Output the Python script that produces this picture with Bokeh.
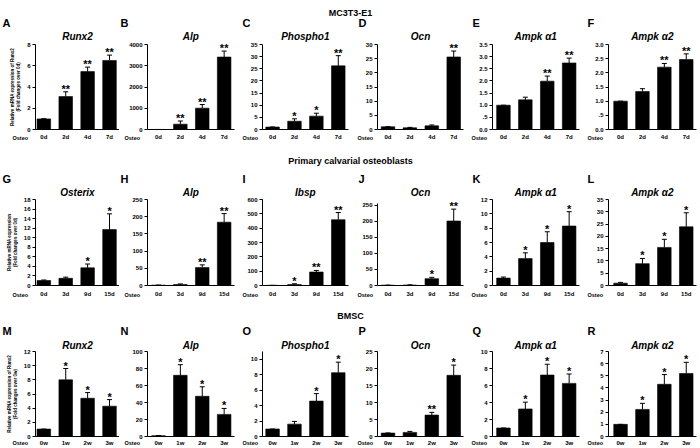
from bokeh.plotting import figure
from bokeh.models import Range1d, FixedTicker, Label, Whisker, TeeHead, ColumnDataSource
from bokeh.layouts import column, row
from bokeh.core.properties import value
from bokeh.embed import file_html
from bokeh.resources import INLINE

FONT = "Liberation Sans"

# ---------------- data ----------------
section_titles = ["MC3T3-E1", "Primary calvarial osteoblasts", "BMSC"]

days_mc = ["0d", "2d", "4d", "7d"]
days_pc = ["0d", "3d", "9d", "15d"]
weeks_bm = ["0w", "1w", "2w", "3w"]

# MC3T3-E1
mc_runx2 = [1.0, 3.1, 5.45, 6.5]
mc_runx2_err = [0.02, 0.45, 0.42, 0.5]
mc_runx2_sig = ["", "**", "**", "**"]
mc_alp = [1.0, 250, 1005, 3410]
mc_alp_err = [0.0, 150, 170, 280]
mc_alp_sig = ["", "**", "**", "**"]
mc_phospho1 = [1.0, 3.4, 5.5, 26.2]
mc_phospho1_err = [0.05, 1.0, 1.2, 4.2]
mc_phospho1_sig = ["", "*", "*", "**"]
mc_ocn = [0.95, 0.6, 1.3, 25.6]
mc_ocn_err = [0.05, 0.15, 0.3, 2.1]
mc_ocn_sig = ["", "", "", "**"]
mc_ampka1 = [1.0, 1.22, 1.99, 2.74]
mc_ampka1_err = [0.0, 0.11, 0.21, 0.2]
mc_ampka1_sig = ["", "", "**", "**"]
mc_ampka2 = [1.0, 1.34, 2.2, 2.47]
mc_ampka2_err = [0.0, 0.1, 0.13, 0.2]
mc_ampka2_sig = ["", "", "**", "**"]

# Primary calvarial osteoblasts
pc_osterix = [1.05, 1.5, 3.7, 11.7]
pc_osterix_err = [0.1, 0.25, 0.8, 3.3]
pc_osterix_sig = ["", "", "*", "*"]
pc_alp = [1.0, 3.0, 52, 184]
pc_alp_err = [0.3, 1.5, 8, 25]
pc_alp_sig = ["", "", "**", "**"]
pc_ibsp = [1.0, 7.0, 94, 459]
pc_ibsp_err = [0.3, 5, 11, 50]
pc_ibsp_sig = ["", "*", "**", "**"]
pc_ocn = [1.0, 1.5, 21.4, 201]
pc_ocn_err = [0.2, 0.5, 4, 37]
pc_ocn_sig = ["", "", "*", "**"]
pc_ampka1 = [1.03, 3.76, 6.0, 8.3]
pc_ampka1_err = [0.15, 0.8, 1.5, 2.0]
pc_ampka1_sig = ["", "*", "*", "*"]
pc_ampka2 = [0.96, 8.9, 15.5, 23.9]
pc_ampka2_err = [0.3, 2.1, 3.3, 5.7]
pc_ampka2_sig = ["", "*", "*", "*"]

# BMSC
bm_runx2 = [1.05, 8.0, 5.4, 4.28]
bm_runx2_err = [0.0, 1.6, 0.8, 0.93]
bm_runx2_sig = ["", "*", "*", "*"]
bm_alp = [1.0, 72, 47.3, 26]
bm_alp_err = [0.2, 12.5, 11.2, 7]
bm_alp_sig = ["", "*", "*", "*"]
bm_phospho1 = [0.97, 1.6, 4.58, 8.26]
bm_phospho1_err = [0.0, 0.35, 0.97, 1.36]
bm_phospho1_sig = ["", "", "*", "*"]
bm_ocn = [1.0, 1.2, 6.3, 18.0]
bm_ocn_err = [0.05, 0.3, 0.8, 3.0]
bm_ocn_sig = ["", "", "**", "*"]
bm_ampka1 = [1.0, 3.24, 7.23, 6.25]
bm_ampka1_err = [0.0, 0.8, 1.27, 1.1]
bm_ampka1_sig = ["", "*", "*", "*"]
bm_ampka2 = [1.0, 2.23, 4.3, 5.19]
bm_ampka2_err = [0.0, 0.5, 0.8, 0.92]
bm_ampka2_sig = ["", "*", "*", "*"]

ylabel_mc = "Relative mRNA expression of Runx2\n(Fold changes over 0d)"
ylabel_pc = "Relative mRNA expression\n(Fold changes over 0d)"
ylabel_bm = "Relative mRNA expression of Runx2\n(Fold changes over 0w)"

# letter, gene, categories, values, errors, significance,
# axis end, value at top of plotting area, tick step, last tick, y label
rows_spec = [
    [
        ("A", "Runx2", days_mc, mc_runx2, mc_runx2_err, mc_runx2_sig, 8, 8, 2, 8, ylabel_mc),
        ("B", "Alp", days_mc, mc_alp, mc_alp_err, mc_alp_sig, 4000, 4000, 1000, 4000, None),
        ("C", "Phospho1", days_mc, mc_phospho1, mc_phospho1_err, mc_phospho1_sig, 35, 35, 5, 35, None),
        ("D", "Ocn", days_mc, mc_ocn, mc_ocn_err, mc_ocn_sig, 30, 30, 5, 30, None),
        ("E", "Ampk α1", days_mc, mc_ampka1, mc_ampka1_err, mc_ampka1_sig, 3.5, 3.5, 0.5, 3.5, None),
        ("F", "Ampk α2", days_mc, mc_ampka2, mc_ampka2_err, mc_ampka2_sig, 3.0, 3.0, 0.5, 3.0, None),
    ],
    [
        ("G", "Osterix", days_pc, pc_osterix, pc_osterix_err, pc_osterix_sig, 18, 18, 2, 18, ylabel_pc),
        ("H", "Alp", days_pc, pc_alp, pc_alp_err, pc_alp_sig, 250, 250, 50, 250, None),
        ("I", "Ibsp", days_pc, pc_ibsp, pc_ibsp_err, pc_ibsp_sig, 600, 600, 100, 600, None),
        ("J", "Ocn", days_pc, pc_ocn, pc_ocn_err, pc_ocn_sig, 256, 268, 50, 250, None),
        ("K", "Ampk α1", days_pc, pc_ampka1, pc_ampka1_err, pc_ampka1_sig, 12, 12, 2, 12, None),
        ("L", "Ampk α2", days_pc, pc_ampka2, pc_ampka2_err, pc_ampka2_sig, 35, 35, 5, 35, None),
    ],
    [
        ("M", "Runx2", weeks_bm, bm_runx2, bm_runx2_err, bm_runx2_sig, 12, 12, 2, 12, ylabel_bm),
        ("N", "Alp", weeks_bm, bm_alp, bm_alp_err, bm_alp_sig, 100, 100, 20, 100, None),
        ("O", "Phospho1", weeks_bm, bm_phospho1, bm_phospho1_err, bm_phospho1_sig, 11, 11, 2, 10, None),
        ("P", "Ocn", weeks_bm, bm_ocn, bm_ocn_err, bm_ocn_sig, 25, 25, 5, 25, None),
        ("Q", "Ampk α1", weeks_bm, bm_ampka1, bm_ampka1_err, bm_ampka1_sig, 10, 10, 2, 10, None),
        ("R", "Ampk α2", weeks_bm, bm_ampka2, bm_ampka2_err, bm_ampka2_sig, 7, 7, 1, 7, None),
    ],
]

# ---------------- layout constants (pixels) ----------------
PX_PER_CAT = 21.9                 # horizontal pixels per category step
X1 = 3.45                         # right end of the category axis
col_w = [119, 117, 116, 115, 115, 117]
axis_off = [35, 28, 26, 25, 25, 26]
col_x0 = [-0.38, -0.5, -0.46, -0.48, -0.5, -0.55]
letter_x = [2, 1, 6, 6, 5, 5]
osteo_x = [12, 5, 6, 5, 4, 5]
strip_h = [17, 20, 23]
strip_y = [5, 10, 7]
panel_h = [133, 129, 125]
axis_top = [27, 29, 29]
axis_zero = [112, 115, 114]
letter_y = [5, 8, 8]
gene_y = [19, 22, 23]
xlab_off = [8, 9, 6]
xlab_standoff = [4, 5, 3]
TOTAL_W = sum(col_w)


def tick_label(t, step):
    if step < 1:
        s = f"{t:.1f}"
        return ".5" if s == "0.5" else s
    return str(int(round(t)))


def make_panel(spec, r, c):
    letter, gene, cats, vals, errs, sigs, yend, ytop, step, tmax, ylabel = spec
    W, H = col_w[c], panel_h[r]
    L = axis_off[c]
    X0 = col_x0[c]
    T, Z = axis_top[r], axis_zero[r]
    ypp = ytop / (Z - T)
    xs0 = X0 - L / PX_PER_CAT
    p = figure(width=W, height=H,
               x_range=Range1d(xs0, xs0 + W / PX_PER_CAT),
               y_range=Range1d(-(H - Z) * ypp, ytop + T * ypp),
               output_backend="svg", toolbar_location=None, min_border=0)
    p.outline_line_color = None
    p.xgrid.visible = False
    p.ygrid.visible = False
    p.background_fill_color = "white"
    p.border_fill_color = "white"

    xs = list(range(len(cats)))
    upper = [v + e for v, e in zip(vals, errs)]
    src = ColumnDataSource(dict(x=xs, v=vals, up=upper, sig=sigs))
    p.vbar(x="x", top="v", bottom=0, width=0.62, source=src,
           fill_color="black", line_color="black", line_width=0.6)
    p.add_layout(Whisker(source=src, base="x", lower="v", upper="up",
                         line_color="black", line_width=1,
                         upper_head=TeeHead(size=5, line_color="black", line_width=1),
                         lower_head=None))
    p.text(x="x", y="up", text="sig", source=src, text_align="center",
           text_baseline="alphabetic", y_offset=-3,
           text_font=value(FONT), text_font_size="11px", text_font_style="bold",
           text_color="black")

    # y axis, drawn at the left end of the category span
    n = int(round(tmax / step))
    yt = [i * step for i in range(n + 1)]
    ya = p.yaxis[0]
    ya.fixed_location = X0
    ya.bounds = (0, yend)
    ya.ticker = FixedTicker(ticks=yt)
    ya.major_label_overrides = {t: tick_label(t, step) for t in yt}
    ya.major_label_text_font = FONT
    ya.major_label_text_font_size = "6px"
    ya.major_label_text_font_style = "bold"
    ya.major_label_text_color = "black"
    ya.major_label_standoff = 2
    ya.major_tick_out = 3
    ya.major_tick_in = 0
    ya.minor_tick_out = 0
    ya.minor_tick_in = 0
    ya.axis_line_width = 1
    ya.axis_line_color = "black"
    ya.major_tick_line_color = "black"
    if ylabel:
        ya.axis_label = ylabel
        ya.axis_label_text_font = FONT
        ya.axis_label_text_font_size = "4.5px"
        ya.axis_label_text_font_style = "bold"
        ya.axis_label_text_color = "black"
        ya.axis_label_standoff = 3

    # x axis, drawn at y = 0
    xa = p.xaxis[0]
    xa.fixed_location = 0
    xa.bounds = (X0, X1)
    xa.ticker = FixedTicker(ticks=xs)
    xa.major_label_overrides = {i: c_ for i, c_ in zip(xs, cats)}
    xa.major_label_text_font = FONT
    xa.major_label_text_font_size = "6px"
    xa.major_label_text_font_style = "bold"
    xa.major_label_text_color = "black"
    xa.major_label_standoff = xlab_standoff[r]
    xa.major_tick_out = 0
    xa.major_tick_in = 0
    xa.minor_tick_out = 0
    xa.minor_tick_in = 0
    xa.axis_line_width = 1
    xa.axis_line_color = "black"

    p.add_layout(Label(x=osteo_x[c], y=H - Z - xlab_off[r], x_units="screen", y_units="screen",
                       text="Osteo", text_align="left", text_baseline="middle", text_font=FONT,
                       text_font_size="5.5px", text_font_style="bold", text_color="black"))
    fw = (X1 - X0) * PX_PER_CAT
    p.add_layout(Label(x=L + fw / 2, y=H - gene_y[r], x_units="screen", y_units="screen", text=gene,
                       text_align="center", text_baseline="middle", text_font=FONT,
                       text_font_size="10px", text_font_style="bold italic", text_color="black"))
    p.add_layout(Label(x=letter_x[c], y=H - letter_y[r], x_units="screen", y_units="screen",
                       text=letter, text_align="left", text_baseline="middle", text_font=FONT,
                       text_font_size="11px", text_font_style="bold", text_color="black"))
    return p


def make_strip(r):
    h = strip_h[r]
    s = figure(width=TOTAL_W, height=h, x_axis_type=None, y_axis_type=None,
               x_range=Range1d(0, 1), y_range=Range1d(0, 1),
               output_backend="svg", toolbar_location=None, min_border=0)
    s.outline_line_color = None
    s.border_fill_color = "white"
    s.add_layout(Label(x=350, y=strip_y[r], x_units="screen", y_units="screen",
                       text=section_titles[r], text_align="center", text_baseline="middle",
                       text_font=FONT, text_font_size="9px", text_font_style="bold",
                       text_color="black"))
    return s


items = []
for r, specs in enumerate(rows_spec):
    items.append(make_strip(r))
    items.append(row([make_panel(sp, r, c) for c, sp in enumerate(specs)], spacing=0))

layout = column(items, spacing=0)

open("out.html", "w").write(file_html(layout, INLINE))
